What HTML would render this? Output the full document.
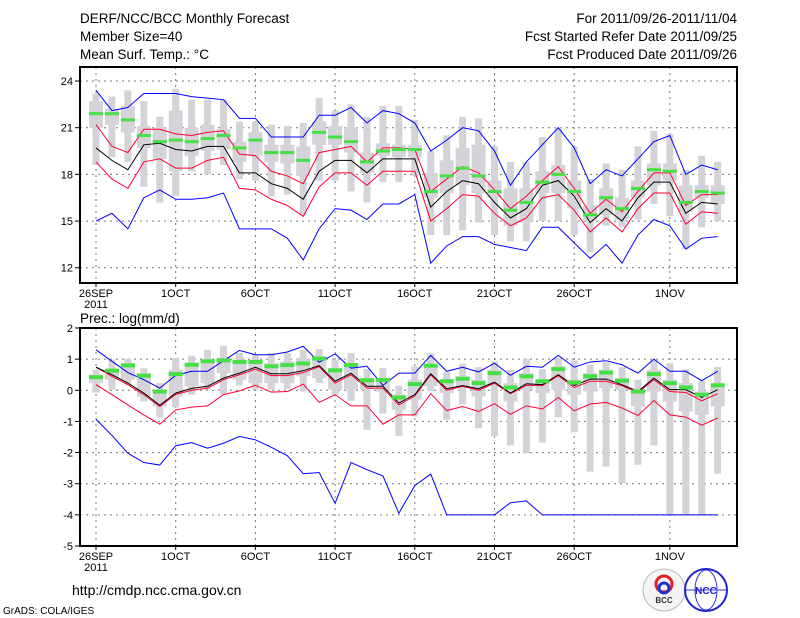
<!DOCTYPE html>
<html><head><meta charset="utf-8">
<style>
html,body{margin:0;padding:0;background:#fff;}
svg{display:block;font-family:"Liberation Sans","DejaVu Sans",sans-serif;}
</style></head>
<body>
<svg id="chart" width="800" height="618" viewBox="0 0 800 618" xmlns="http://www.w3.org/2000/svg">
<g font-size="13.5" fill="#000">
<text x="80" y="23">DERF/NCC/BCC Monthly Forecast</text>
<text x="80" y="41">Member Size=40</text>
<text x="80" y="59">Mean Surf. Temp.: °C</text>
<text x="737" y="23" text-anchor="end">For 2011/09/26-2011/11/04</text>
<text x="737" y="41" text-anchor="end">Fcst Started Refer Date 2011/09/25</text>
<text x="737" y="59" text-anchor="end">Fcst Produced Date 2011/09/26</text>
<text x="80" y="323">Prec.: log(mm/d)</text>
</g>
<g id="top"></g>
<g id="bot"></g>
<g>
<text x="72" y="595" font-size="14">http://cmdp.ncc.cma.gov.cn</text>
<text x="3" y="614" font-size="10">GrADS: COLA/IGES</text>
<g>
<circle cx="664" cy="590" r="21" fill="#f4f4f4" stroke="#bbb"/>
<circle cx="664" cy="584" r="8" fill="none" stroke="#d22" stroke-width="3"/>
<circle cx="664" cy="588" r="5" fill="none" stroke="#23c" stroke-width="3"/>
<text x="664" y="603" font-size="8" text-anchor="middle" fill="#333" font-weight="bold">BCC</text>
</g>
<g>
<circle cx="706" cy="590" r="21" fill="#fff" stroke="#22c" stroke-width="2"/>
<ellipse cx="706" cy="590" rx="11" ry="20" fill="none" stroke="#33d"/>
<line x1="686" y1="590" x2="726" y2="590" stroke="#33d"/>
<text x="706" y="594" font-size="10" text-anchor="middle" fill="#22c" font-weight="bold">NCC</text>
</g>
</g>
</svg>
<script>
const dateLabels=["26SEP","1OCT","6OCT","11OCT","16OCT","21OCT","26OCT","1NOV"];
const dateIdx=[0,5,10,15,20,25,30,36];
// Temperature panel
const tUpperBlue=[23.4,22.1,22.3,23.2,23.2,23.2,23.0,22.9,22.8,21.6,21.6,20.4,20.4,20.4,21.8,21.8,22.3,21.3,22.1,21.9,21.3,19.5,20.2,21.0,20.8,19.5,17.3,18.8,19.9,21.0,19.7,17.4,18.3,17.9,19.0,20.1,20.5,18.0,18.6,18.3];
const tUpperRed=[21.2,19.8,19.4,20.9,20.9,20.6,20.5,20.7,20.8,19.3,19.2,18.2,17.9,17.4,19.4,19.6,19.8,18.8,19.7,19.7,19.6,16.9,17.7,18.5,18.1,17.0,15.8,16.6,17.6,18.5,17.1,15.5,16.4,15.6,16.9,18.1,18.1,16.0,16.7,16.7];
const tMean=[19.7,18.9,18.3,19.9,20.0,19.6,19.5,19.8,19.8,18.1,18.1,17.4,17.1,16.4,18.2,18.9,18.9,18.1,19.0,19.0,19.0,15.9,16.9,17.6,17.4,16.2,15.2,15.8,17.3,17.6,16.6,14.9,15.8,15.0,16.5,17.5,17.5,15.5,16.2,16.1];
const tLowerRed=[18.8,17.7,17.1,18.8,19.0,18.4,18.4,18.9,19.1,17.1,17.0,16.4,16.0,15.3,17.2,18.1,18.1,17.3,18.2,18.2,18.2,15.0,15.8,16.7,16.6,15.5,14.7,15.2,16.5,16.7,15.7,14.3,15.2,14.3,15.8,16.8,16.8,14.8,15.6,15.5];
const tLowerBlue=[15.0,15.5,14.5,16.5,17.0,16.4,16.4,16.5,16.8,14.5,14.5,14.5,13.9,12.5,14.5,15.8,15.7,15.1,16.1,16.1,16.7,12.3,13.4,14.0,14.0,13.5,13.3,13.1,14.6,14.6,13.6,12.6,13.5,12.3,14.1,15.1,14.7,13.2,13.9,14.0];
const tMedian=[21.9,21.9,21.5,20.5,20.1,20.2,20.1,20.3,20.5,19.7,20.2,19.4,19.4,18.9,20.7,20.4,20.1,18.8,19.5,19.6,19.6,16.9,17.9,18.4,17.9,16.9,15.7,16.2,17.5,18.0,16.9,15.4,16.5,15.8,17.1,18.3,18.2,16.2,16.9,16.8];
const tWhiskTop=[23.2,23.0,23.4,22.7,21.7,23.5,22.8,22.8,22.8,21.4,21.4,21.2,21.1,21.3,22.9,22.1,22.5,21.7,22.4,22.4,21.5,19.5,20.5,21.7,21.6,19.8,18.8,18.8,20.4,21.0,19.8,17.7,18.7,18.3,19.8,20.8,20.6,18.3,19.2,18.8];
const tBoxTop=[22.7,22.2,22.4,21.1,21.0,22.1,21.0,21.2,20.9,20.1,20.7,19.9,19.9,19.8,21.4,21.1,21.0,19.4,20.0,19.9,19.9,18.1,18.9,19.7,19.9,17.6,17.1,17.1,18.2,18.6,17.6,16.0,17.1,16.5,17.6,18.7,18.7,17.3,17.3,17.3];
const tBoxBot=[21.0,21.2,20.7,19.7,19.0,18.2,19.2,19.5,19.6,18.8,19.2,18.8,18.7,17.9,19.9,19.9,19.4,18.1,19.2,19.1,19.1,16.5,16.8,17.3,16.8,16.5,14.7,14.9,16.8,16.8,15.8,15.0,15.4,15.1,16.5,17.3,17.6,15.6,16.5,16.1];
const tWhiskBot=[18.6,19.1,18.8,17.2,16.2,16.6,18.2,18.0,18.6,17.7,17.6,16.6,16.7,15.4,17.6,17.6,16.9,16.2,17.5,17.5,17.9,14.1,14.1,14.4,14.9,14.1,13.7,13.7,15.0,15.0,14.1,13.0,14.7,14.6,15.1,16.1,15.3,13.2,14.6,15.0];
const tTicks=[12,15,18,21,24];
// Precipitation panel
const pUpperBlue=[1.30,0.93,0.57,0.34,0.07,0.48,0.61,0.61,0.95,1.28,1.14,1.14,1.23,1.41,0.90,1.17,0.71,0.77,0.16,0.55,0.55,1.12,0.61,0.74,0.59,0.87,0.48,0.77,0.74,1.12,0.74,0.91,0.95,0.82,0.55,1.00,0.61,0.61,0.31,0.61];
const pMean=[0.74,0.50,0.23,-0.09,-0.48,-0.09,0.06,0.13,0.39,0.55,0.74,0.53,0.53,0.63,0.79,0.29,0.55,0.13,0.13,-0.41,-0.14,0.53,0.05,0.15,0.05,0.26,-0.09,0.21,0.18,0.50,0.15,0.36,0.36,0.18,-0.04,0.39,0.02,0.02,-0.23,0.02];
const pUpperRed=[0.74,0.45,0.18,-0.14,-0.52,-0.13,0.00,0.07,0.34,0.50,0.68,0.47,0.47,0.57,0.76,0.23,0.50,0.07,0.07,-0.47,-0.18,0.50,0.00,0.13,0.00,0.23,-0.11,0.16,0.15,0.47,0.09,0.29,0.29,0.15,-0.07,0.34,-0.04,-0.07,-0.34,-0.11];
const pLowerRed=[0.18,-0.14,-0.47,-0.79,-1.09,-0.63,-0.54,-0.50,-0.14,-0.02,0.16,-0.06,-0.04,0.20,-0.39,-0.14,-0.50,-0.50,-1.09,-0.79,-0.79,-0.11,-0.65,-0.52,-0.68,-0.43,-0.77,-0.50,-0.60,-0.23,-0.66,-0.44,-0.39,-0.57,-0.81,-0.33,-0.79,-0.86,-1.12,-0.89];
const pLowerBlue=[-0.93,-1.45,-2.02,-2.32,-2.40,-1.78,-1.68,-1.86,-1.70,-1.48,-1.59,-1.83,-2.10,-2.68,-2.64,-3.63,-2.32,-2.55,-2.75,-3.95,-3.06,-2.69,-4,-4,-4,-4,-3.61,-3.55,-4,-4,-4,-4,-4,-4,-4,-4,-4,-4,-4,-4];
const pMedian=[0.42,0.63,0.80,0.47,-0.04,0.52,0.82,0.93,0.96,0.91,0.91,0.77,0.81,0.86,1.02,0.64,0.81,0.32,0.33,-0.23,0.20,0.79,0.29,0.37,0.23,0.55,0.09,0.45,0.29,0.68,0.25,0.45,0.57,0.31,-0.04,0.52,0.23,0.09,-0.14,0.16];
const pWhiskTop=[0.66,0.98,1.01,0.71,0.23,1.04,1.11,1.30,1.43,1.20,1.14,1.20,1.20,1.30,1.32,0.98,1.20,0.68,0.71,0.15,0.77,1.20,0.59,0.85,0.74,0.93,0.66,1.00,0.68,1.04,0.96,0.82,0.90,0.74,0.34,0.98,0.87,0.68,0.31,0.75];
const pBoxTop=[0.50,0.66,0.87,0.55,0.02,0.66,0.87,0.98,1.04,0.98,0.93,0.87,0.93,1.04,1.09,0.71,0.87,0.39,0.39,-0.14,0.34,0.82,0.34,0.45,0.34,0.66,0.23,0.55,0.34,0.77,0.34,0.55,0.66,0.39,0.07,0.66,0.34,0.23,-0.04,0.23];
const pBoxBot=[0.23,0.34,0.34,-0.20,-0.52,-0.20,0.13,0.23,0.55,0.34,0.23,0.23,0.23,0.45,0.39,0.02,0.02,0.02,-0.04,-0.63,-0.30,0.13,-0.09,0.07,-0.20,0.13,-0.36,0.02,-0.09,0.02,-0.14,-0.04,0.07,0.02,-0.52,-0.04,-0.36,-0.68,-0.79,-0.52];
const pWhiskBot=[-0.07,0.02,0.18,-0.36,-0.87,-0.55,-0.14,0.02,-0.14,0.16,0.02,0.02,0.05,-0.04,0.23,-0.14,-0.34,-1.27,-0.75,-1.46,-0.84,-0.02,-0.95,-0.45,-1.22,-1.48,-1.77,-2.02,-1.68,-0.87,-1.35,-2.61,-2.45,-2.98,-2.39,-1.77,-4,-4,-4,-2.68];
const pTicks=[-5,-4,-3,-2,-1,0,1,2];

const NS="http://www.w3.org/2000/svg";
const X0=96, DX=15.94, LEFT=80, RIGHT=737;
function xs(i){return X0+i*DX;}
function mk(parent,tag,attrs){const e=document.createElementNS(NS,tag);for(const k in attrs)e.setAttribute(k,attrs[k]);parent.appendChild(e);return e;}

function panel(g,cfg){
  const {top,bottom,vTop,vBot,ticks,boxes,lines,median,medH,prefix}=cfg;
  const ys=v=>top+(vTop-v)*(bottom-top)/(vTop-vBot);
  ticks.forEach(t=>{
    const y=ys(t);
    if(y>top+1&&y<bottom-1){const l=mk(g,'line',{x1:LEFT,x2:RIGHT,y1:y,y2:y,stroke:'#777','stroke-dasharray':'2,4','stroke-width':1});
    
    }
    const tk=mk(g,'line',{x1:LEFT-5,x2:LEFT,y1:y,y2:y,stroke:'#000'});
    
    
    const tx=mk(g,'text',{x:LEFT-7,y:y+4,'font-size':11,'text-anchor':'end'});tx.textContent=t;
    
    
  });
  dateIdx.forEach((d,k)=>{
    const x=xs(d);
    const l=mk(g,'line',{x1:x,x2:x,y1:top,y2:bottom,stroke:'#777','stroke-dasharray':'2,4'});
    
    
    const tk=mk(g,'line',{x1:x,x2:x,y1:bottom,y2:bottom+4,stroke:'#000'});
    
    
    const tx=mk(g,'text',{x:x,y:bottom+14,'font-size':11,'text-anchor':'middle'});tx.textContent=dateLabels[k];
    
    
  });
  const yr=mk(g,'text',{x:xs(0),y:bottom+25,'font-size':11,'text-anchor':'middle'});yr.textContent='2011';
  
  
  const [wt,bt,bb,wb]=boxes;
  for(let i=0;i<wt.length;i++){
    const x=xs(i);
    const w=mk(g,'rect',{x:x-3.5,y:ys(wt[i]),width:7,height:ys(wb[i])-ys(wt[i]),fill:'#d4d4d8'});
    
    
    const b=mk(g,'rect',{x:x-7,y:ys(bt[i]),width:14,height:ys(bb[i])-ys(bt[i]),fill:'#d4d4d8'});
    
    
  }
  lines.forEach(([arr,col,name])=>{
    const p=mk(g,'polyline',{points:arr.map((v,i)=>xs(i)+','+ys(v)).join(' '),fill:'none',stroke:col,'stroke-width':1});
    
    
  });
  median.forEach((v,i)=>{
    const r=mk(g,'rect',{x:xs(i)-7,y:ys(v)-medH/2,width:14,height:medH,fill:'#44e044'});
    
    
  });
  const f=mk(g,'rect',{x:LEFT,y:top,width:RIGHT-LEFT,height:bottom-top,fill:'none',stroke:'#000','stroke-width':2});
  
  
}
const gt=document.getElementById('top');


panel(gt,{top:67,bottom:283,vTop:24.9,vBot:11.02,ticks:tTicks,boxes:[tWhiskTop,tBoxTop,tBoxBot,tWhiskBot],
  lines:[[tUpperBlue,'#0000ff','max-line'],[tUpperRed,'#ff0033','upper-sd-line'],[tMean,'#000','mean-line'],[tLowerRed,'#ff0033','lower-sd-line'],[tLowerBlue,'#0000ff','min-line']],
  median:tMedian,medH:3,prefix:'temp'});
const gb=document.getElementById('bot');


panel(gb,{top:328,bottom:546,vTop:2,vBot:-5,ticks:pTicks,boxes:[pWhiskTop,pBoxTop,pBoxBot,pWhiskBot],
  lines:[[pUpperBlue,'#0000ff','max-line'],[pLowerRed,'#ff0033','lower-sd-line'],[pUpperRed,'#ff0033','upper-sd-line'],[pMean,'#000','mean-line'],[pLowerBlue,'#0000ff','min-line']],
  median:pMedian,medH:4,prefix:'prec'});
</script>
</body></html>
